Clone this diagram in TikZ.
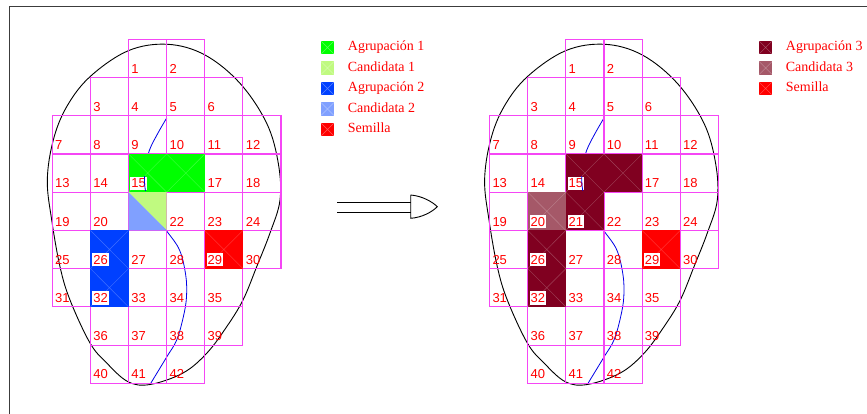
\documentclass[tikz,border=0pt]{standalone}
\usepackage{fontspec}
\setmainfont{Liberation Serif}
\newfontfamily\numfont{Liberation Sans}

\definecolor{gridmag}{RGB}{245,70,245}
\definecolor{agrA}{RGB}{0,255,0}
\definecolor{candA}{RGB}{192,250,128}
\definecolor{agrB}{RGB}{0,64,255}
\definecolor{candB}{RGB}{128,160,255}
\definecolor{seed}{RGB}{255,0,0}
\definecolor{agrC}{RGB}{128,0,32}
\definecolor{candC}{RGB}{165,88,104}
\definecolor{framegray}{RGB}{60,60,60}
\definecolor{pathblue}{RGB}{0,0,230}

\tikzset{
  panel/.style={shift={(52.3+#1,39.3)}, x=38.12pt, y=-38.22pt},
  gridline/.style={draw=gridmag, line width=1.1pt},
  hatch/.style={draw=white, opacity=0.25, line width=0.4pt},
  numlbl/.style={font=\numfont\fontsize{13}{13}\selectfont, text=red,
    anchor=base west, inner xsep=1pt, inner ysep=2pt, xshift=1.7pt, yshift=4.4pt},
  numbox/.style={numlbl, fill=white},
  outline/.style={draw=black, line width=0.9pt},
  route/.style={draw=pathblue, line width=0.8pt},
  swatch/.style={minimum size=13.5pt, inner sep=0pt, fill=#1,
    path picture={\draw[white, opacity=0.35, line width=0.4pt]
      (path picture bounding box.north west) -- (path picture bounding box.south east)
      (path picture bounding box.north east) -- (path picture bounding box.south west);}},
  legtext/.style={font=\fontsize{14}{14}\selectfont, text=red, anchor=base west, inner sep=0pt},
}

% the blue route through a panel
\newcommand\routepath{plot[smooth, tension=0.6] coordinates {
      (166.7,118) (158,133) (149.5,150) (145.5,167) (144.8,186) (151,210)
      (166.7,231) (179.5,250) (185.7,275) (186.5,297) (183.3,317)
      (176.7,340) (166.7,357) (150,384.5)}}

% egg-shaped outline and the blue route, shifted by #1
\newcommand\basecurves[1]{%
  \begin{scope}[shift={(#1,0)}]
    \draw[route] \routepath;
    \draw[outline] plot[smooth cycle, tension=0.6] coordinates {
      (167.7,44.3) (205,55) (240,83.3) (266.7,123.3) (278.3,163.3) (280,200)
      (270,233) (256.7,266.7) (243,300) (226.7,326.7) (206.7,353.3) (183,373)
      (150,384.5) (128,381.7) (106.7,363) (90,343) (70,300) (60,266.7)
      (51.7,220) (47.3,180) (53.3,140) (66.7,106.7) (90,76.7) (128.3,50.7)};
  \end{scope}}

% route segment showing through the label box of cell 15; #1 offset, #2 node
\newcommand\routethrough[2]{%
  \begin{scope}
    \clip (#2.south west) rectangle (#2.north east);
    \begin{scope}[shift={(#1,0)}]
      \draw[route] \routepath;
    \end{scope}
  \end{scope}}

% diagonal strokes inside a filled cell (grid units)
\newcommand\hatchcell[2]{%
  \draw[hatch] (#1,#2) -- ++(1,1) (#1+1,#2) -- ++(-1,1);}

% cell outlines; #1 offset
\newcommand\cellgrid[1]{%
  \begin{scope}[panel=#1]
    \foreach \r/\a/\b in {0/2/3,1/1/4,2/0/5,3/0/5,4/0/5,5/0/5,6/0/4,7/1/4,8/1/3}{
      \foreach \c in {\a,...,\b}{
        \draw[gridline] (\c,\r) rectangle ++(1,1);
      }
    }
  \end{scope}}

% cell numbers; #1 offset, #2 0 = left / 1 = right, #3 name prefix
\newcommand\cellnumbers[3]{%
  \begin{scope}[panel=#1]
    \foreach \r/\a/\b/\s in {0/2/3/1,1/1/4/3,2/0/5/7,3/0/5/13,4/0/5/19,
                             5/0/5/25,6/0/4/31,7/1/4/36,8/1/3/40}{
      \foreach \c in {\a,...,\b}{
        \pgfmathtruncatemacro\num{\s+\c-\a}
        \pgfmathtruncatemacro\ishidden{(\num==16)||((\num==21)&&(#2==0))}
        \pgfmathtruncatemacro\isboxed{(\num==15)||(\num==26)||(\num==29)||(\num==32)||((#2==1)&&((\num==20)||(\num==21)))}
        \ifnum\ishidden=0
          \ifnum\isboxed=1
            \node[numbox] (#3\num) at (\c,\r+1) {\num};
          \else
            \node[numlbl] (#3\num) at (\c,\r+1) {\num};
          \fi
        \fi
      }
    }
  \end{scope}}

\begin{document}
\begin{tikzpicture}[x=1pt, y=-1pt]
  \useasboundingbox (0,0) rectangle (867,414);

  % page frame (top and left edges)
  \draw[framegray, line width=1.5pt] (9.3,414) -- (9.3,6.5) -- (867,6.5);

  % ---------- left panel ----------
  \basecurves{0}
  \cellgrid{0}
  \begin{scope}[panel=0]
    \fill[agrA] (2,3) rectangle (4,4);
    \hatchcell{2}{3}\hatchcell{3}{3}
    \fill[candA] (2,4) -- (3,4) -- (3,5) -- cycle;
    \fill[candB] (2,4) -- (2,5) -- (3,5) -- cycle;
    \fill[agrB] (1,5) rectangle (2,7);
    \hatchcell{1}{5}\hatchcell{1}{6}
    \fill[seed] (4,5) rectangle (5,6);
    \hatchcell{4}{5}
  \end{scope}
  \cellnumbers{0}{0}{L}
  \routethrough{0}{L15}

  % legend of the left panel
  \node[swatch=agrA]  (la1) at (327.5,47.5) {};
  \node[swatch=candA] (la2) at (327.5,68.0) {};
  \node[swatch=agrB]  (la3) at (327.5,88.5) {};
  \node[swatch=candB] (la4) at (327.5,109.0) {};
  \node[swatch=seed]  (la5) at (327.5,129.5) {};
  \node[legtext] (lt1) at (347.7,51.0)  {Agrupación 1};
  \node[legtext] (lt2) at (347.7,71.5)  {Candidata 1};
  \node[legtext] (lt3) at (347.7,92.0)  {Agrupación 2};
  \node[legtext] (lt4) at (347.7,112.5) {Candidata 2};
  \node[legtext] (lt5) at (347.7,133.0) {Semilla};

  % ---------- transition arrow ----------
  \coordinate (aS1) at (337.3,202.7);
  \coordinate (aE1) at (410.7,202.7);
  \coordinate (aS2) at (337.3,212.3);
  \coordinate (aE2) at (410.7,212.3);
  \coordinate (hTop) at (410.7,195);
  \coordinate (hBot) at (410.7,218.3);
  \coordinate (hTip) at (437.3,206.7);
  \draw[line width=0.9pt] (aS1) -- (aE1) (aS2) -- (aE2);
  \draw[line width=0.9pt] (hTop) -- (hBot)
    .. controls (422,217.5) and (432,212) .. (hTip)
    .. controls (432,201.5) and (422,196) .. (hTop);

  % ---------- right panel ----------
  \basecurves{437.3}
  \cellgrid{437.3}
  \begin{scope}[panel=437.3]
    \fill[agrC] (2,3) rectangle (4,4);
    \fill[agrC] (2,4) rectangle (3,5);
    \fill[agrC] (1,5) rectangle (2,7);
    \fill[candC] (1,4) rectangle (2,5);
    \fill[seed] (4,5) rectangle (5,6);
    \hatchcell{2}{3}\hatchcell{3}{3}\hatchcell{2}{4}\hatchcell{1}{4}
    \hatchcell{1}{5}\hatchcell{1}{6}\hatchcell{4}{5}
  \end{scope}
  \cellnumbers{437.3}{1}{R}
  \routethrough{437.3}{R15}

  % legend of the right panel
  \node[swatch=agrC]  (ra1) at (765.7,47.5) {};
  \node[swatch=candC] (ra2) at (765.7,68.0) {};
  \node[swatch=seed]  (ra3) at (765.7,88.5) {};
  \node[legtext] (rt1) at (785.7,51.0) {Agrupación 3};
  \node[legtext] (rt2) at (785.7,71.5) {Candidata 3};
  \node[legtext] (rt3) at (785.7,92.0) {Semilla};
\end{tikzpicture}
\end{document}
